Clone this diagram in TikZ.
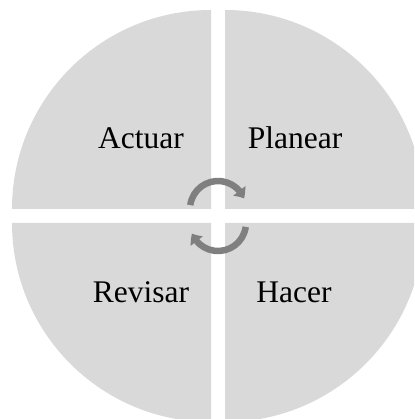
\documentclass[tikz,border=0pt]{standalone}
\usepackage{fontspec}
\setmainfont{Liberation Serif}
\usetikzlibrary{arrows.meta,bending}
\definecolor{quad}{HTML}{D9D9D9}
\definecolor{arrowgray}{HTML}{7F7F7F}
\tikzset{
  quadrant/.style={fill=quad, draw=none},
  label/.style={font=\fontsize{31.5}{36}\selectfont, anchor=base, inner sep=0pt},
  cyclearrow/.style={draw=arrowgray, line width=6.5pt, -{Triangle[width=15pt,length=9pt,bend]}}
}
\begin{document}
\begin{tikzpicture}[x=1pt,y=1pt]
\useasboundingbox (0,0) rectangle (414,419);
\clip (0,0) rectangle (414,419);
% quadrants
\path[quadrant] (211,210) -- ++(-199,0) arc[start angle=180, end angle=90, radius=199] -- cycle;
\path[quadrant] (225,210) -- ++(0,199) arc[start angle=90, end angle=0, radius=199] -- cycle;
\path[quadrant] (211,196) -- ++(0,-199) arc[start angle=270, end angle=180, radius=199] -- cycle;
\path[quadrant] (225,196) -- ++(199,0) arc[start angle=0, end angle=-90, radius=199] -- cycle;
% labels
\node[label] (actuar) at (141,270) {Actuar};
\node[label] (planear) at (295,270) {Planear};
\node[label] (revisar) at (141,116) {Revisar};
\node[label] (hacer) at (294,116) {Hacer};
% cycle arrows
\draw[cyclearrow] (218,210) ++(172:28) arc[start angle=172, end angle=22, radius=28];
\draw[cyclearrow] (218,196) ++(-8:28) arc[start angle=-8, end angle=-158, radius=28];
\end{tikzpicture}
\end{document}
